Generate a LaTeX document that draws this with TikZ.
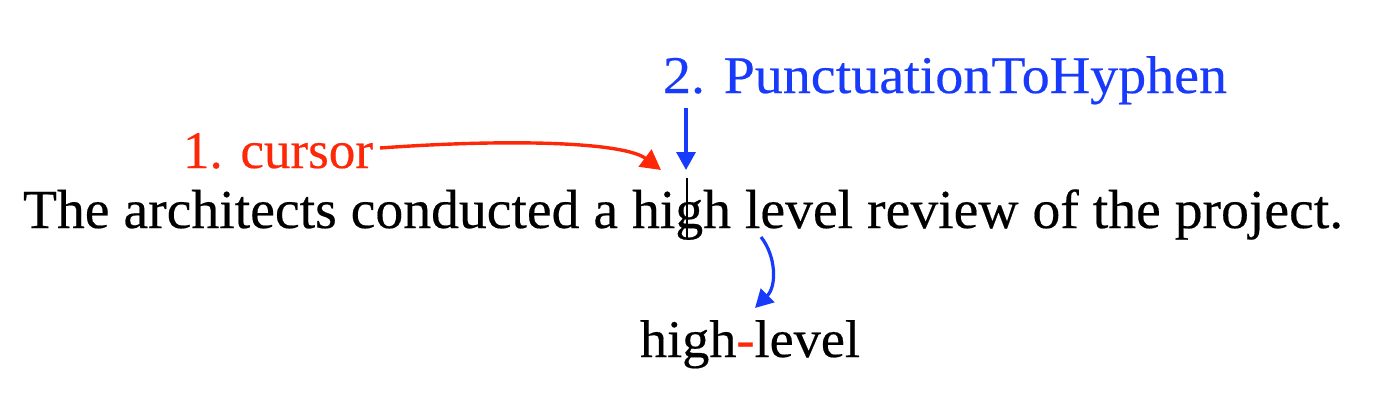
\documentclass[tikz,border=0pt]{standalone}
\usepackage{fontspec}
\usepackage{graphicx}
\setmainfont{Liberation Serif}[FakeBold=0.35]
\usetikzlibrary{arrows.meta}
\definecolor{myred}{RGB}{252,40,8}
\definecolor{myblue}{RGB}{24,58,250}
\newlength\fitlen
\newcommand\fitw[2]{\settowidth\fitlen{#2}\pgfmathsetmacro\fitfac{#1/\fitlen}\scalebox{\fitfac}[1]{#2}}
\begin{document}
\begin{tikzpicture}[x=1pt,y=1pt,
  txt/.style={inner sep=0pt,outer sep=0pt,anchor=base west},
  redarr/.style={myred,line width=3.4pt,-{Triangle[length=20pt,width=21pt]}},
  bluearr/.style={myblue,line width=3.2pt,-{Triangle[length=18pt,width=19pt]}}]
\useasboundingbox (0,0) rectangle (1386,408);
% main sentence (y = 408 - pixel row)
\node[txt] (sent) at (23,180) {\fontsize{55}{60}\selectfont\fitw{1320}{The architects conducted a high level review of the project.}};
\node[txt,text=myred] (cur) at (183,240) {\fontsize{53}{58}\selectfont\fitw{190}{1. cursor}};
\node[txt,text=myblue] (pth) at (663,315) {\fontsize{53}{58}\selectfont\fitw{564}{2. PunctuationToHyphen}};
\node[txt] (hl) at (640,51) {\fontsize{53}{58}\selectfont\fitw{220}{high\textcolor{myred}{-}level}};
% cursor bar
\coordinate (ctop) at (687,230);
\coordinate (cbot) at (687,169);
\draw[black,line width=1.6pt] (ctop) -- (cbot);
% arrows
\coordinate (rs) at (380,260);
\coordinate (rt) at (661,238);
\draw[redarr] (rs) .. controls (520,270) and (625,265) .. (rt);
\coordinate (bs) at (686,300);
\coordinate (bt) at (686,238);
\draw[bluearr] (bs) -- (bt);
\coordinate (cs) at (761,171);
\coordinate (ct) at (755,100);
\draw[bluearr] (cs) .. controls (776,152) and (777,122) .. (ct);
\end{tikzpicture}
\end{document}
